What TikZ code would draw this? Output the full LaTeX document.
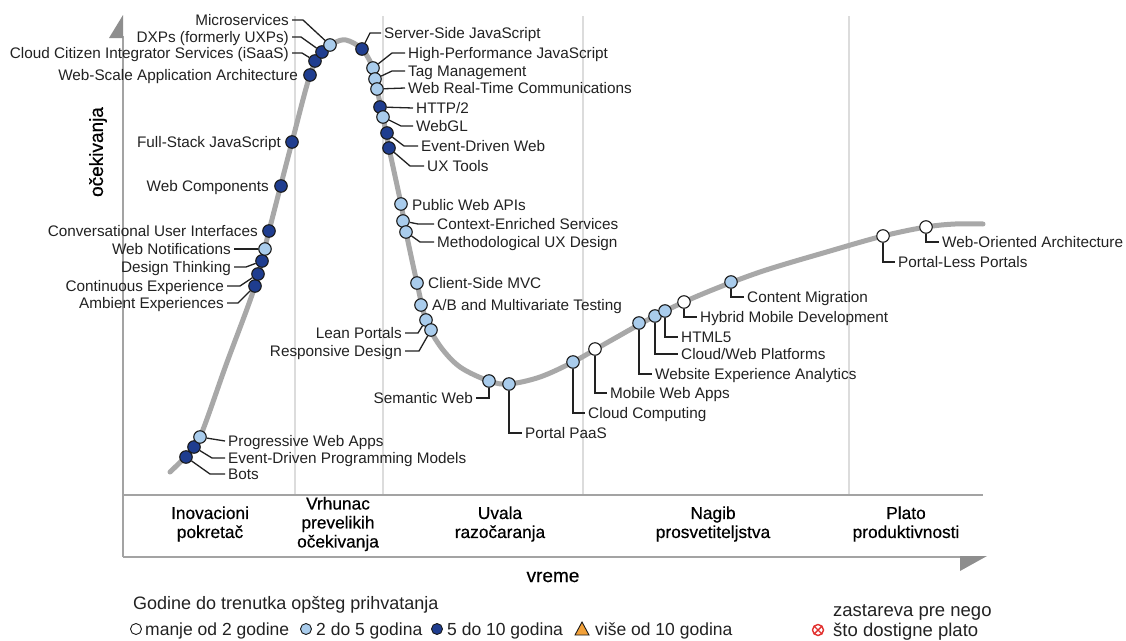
\documentclass[tikz,border=0pt]{standalone}
\usepackage{fontspec}
\setmainfont{Liberation Sans}
\pgfdeclarelayer{links}
\pgfsetlayers{links,main}
\definecolor{curvegray}{HTML}{A8A8A8}
\definecolor{axisgray}{HTML}{A3A3A3}
\definecolor{sepgray}{HTML}{DCDCDC}
\definecolor{tipgray}{HTML}{8E8E8E}
\definecolor{lightdot}{HTML}{A9CCEC}
\definecolor{darkdot}{HTML}{1F3D8F}
\definecolor{rimcol}{HTML}{1A1A1A}
\definecolor{inkcol}{HTML}{222222}
\definecolor{ambercol}{HTML}{F2A13A}
\definecolor{redcol}{HTML}{E2312F}
\newcommand\lblfont{\fontsize{15.3}{17}\selectfont}
\newcommand\phasefont{\fontsize{17.3}{19}\selectfont\addfontfeatures{FakeBold=0.5}}
\newcommand\axisfont{\fontsize{19}{21}\selectfont\addfontfeatures{FakeBold=0.5}}
\newcommand\legfont{\fontsize{17.5}{19}\selectfont}
\tikzset{
  dotbase/.style={circle, draw=rimcol, line width=1.1pt, minimum size=12.5pt, inner sep=0pt},
  dotW/.style={dotbase, fill=white},
  dotL/.style={dotbase, fill=lightdot},
  dotD/.style={dotbase, fill=darkdot},
  lbl/.style={font=\lblfont, text=inkcol, inner sep=0pt, text height=11pt, text depth=0pt},
  lblW/.style={lbl, anchor=west},
  lblE/.style={lbl, anchor=east},
  leader/.style={draw=inkcol, line width=1.3pt},
  phase/.style={font=\phasefont, align=center, inner sep=0pt, text=black},
  legtext/.style={font=\legfont, text=inkcol, anchor=west, inner sep=0pt, text height=12.5pt, text depth=0pt},
  sepline/.style={draw=sepgray, line width=1.8pt},
  axisline/.style={draw=axisgray, line width=1.6pt},
  hype/.style={draw=curvegray, line width=5pt, line cap=round},
}
\begin{document}
\begin{tikzpicture}[x=1pt,y=-1pt]
\useasboundingbox (0,0) rectangle (1126,640);

\begin{pgfonlayer}{links}
  \fill[white] (0,0) rectangle (1126,640);
  % phase separators
  \foreach \sx in {295,383,583,849} \draw[sepline] (\sx,16) -- (\sx,495);
  % axes and phase band
  \draw[axisline] (123,36) -- (123,557);
  \fill[tipgray] (123,15) -- (123,38) -- (109,38) -- cycle;
  \draw[axisline] (123,495) -- (983,495);
  \draw[axisline] (123,557) -- (962,557);
  \fill[tipgray] (960,556) -- (987,556) -- (960,571) -- cycle;
  % hype curve
  \draw[hype] plot[smooth, tension=0.55] coordinates {
    (170,472) (186,456) (200,437) (226,365) (255,286) (269,231) (292,142)
    (310,75) (322,52) (334,43) (346,40) (362,49) (373,68) (377,89) (383,117)
    (389,148) (401,204) (406,232) (417,283) (426,320) (440,346) (460,367)
    (489,381) (509,384) (540,377) (573,362) (610,341) (655,316) (700,295)
    (760,272) (830,251) (883,236) (926,227) (955,224) (983,224)};
\end{pgfonlayer}

% axis titles
\node[font=\axisfont, rotate=90, inner sep=0pt] (ylab) at (98,152) {očekivanja};
\node[font=\axisfont, inner sep=0pt] (xlab) at (553,577) {vreme};

% phase names
\node[phase] (ph1) at (210,524) {Inovacioni\\pokretač};
\node[phase] (ph2) at (338,524) {Vrhunac\\prevelikih\\očekivanja};
\node[phase] (ph3) at (500,524) {Uvala\\razočaranja};
\node[phase] (ph4) at (713,524) {Nagib\\prosvetiteljstva};
\node[phase] (ph5) at (906,524) {Plato\\produktivnosti};

% technologies on the rising slope
\node[dotD] (bots) at (186,457) {};
\node[dotD] (edpm) at (194,447) {};
\node[dotL] (pwa) at (200,437) {};
\node[dotD] (aexp) at (255,286) {};
\node[dotD] (cexp) at (258,274) {};
\node[dotD] (dthk) at (262,261) {};
\node[dotL] (wnot) at (265,249) {};
\node[dotD] (cui) at (269,231) {};
\node[dotD] (wcmp) at (281,186) {};
\node[dotD] (fsjs) at (292,142) {};
\node[dotD] (wsaa) at (310,75) {};
\node[dotD] (ccis) at (315,61) {};
\node[dotD] (dxp) at (322,52) {};
\node[dotL] (msv) at (330,45) {};

\node[lblE] (msvl) at (289,20) {Microservices};
\node[lblE] (dxpl) at (289,37) {DXPs (formerly UXPs)};
\node[lblE] (ccisl) at (289,53) {Cloud Citizen Integrator Services (iSaaS)};
\node[lblE] (wsaal) at (298,75) {Web-Scale Application Architecture};
\node[lblE] (fsjsl) at (281,142) {Full-Stack JavaScript};
\node[lblE] (wcmpl) at (269,186) {Web Components};
\node[lblE] (cuil) at (258,231) {Conversational User Interfaces};
\node[lblE] (wnotl) at (231,249) {Web Notifications};
\node[lblE] (dthkl) at (231,267) {Design Thinking};
\node[lblE] (cexpl) at (224,286) {Continuous Experience};
\node[lblE] (aexpl) at (224,303) {Ambient Experiences};
\node[lblW] (pwal) at (228,441) {Progressive Web Apps};
\node[lblW] (edpml) at (228,458) {Event-Driven Programming Models};
\node[lblW] (botsl) at (228,474) {Bots};

% technologies past the peak
\node[dotD] (ssjs) at (362,49) {};
\node[dotL] (hpjs) at (373,68) {};
\node[dotL] (tagm) at (375,79) {};
\node[dotL] (wrtc) at (377,89) {};
\node[dotD] (http) at (380,107) {};
\node[dotL] (wgl) at (383,117) {};
\node[dotD] (edw) at (387,133) {};
\node[dotD] (uxt) at (389,148) {};
\node[dotL] (pwapi) at (401,204) {};
\node[dotL] (ces) at (403,221) {};
\node[dotL] (mux) at (406,232) {};
\node[dotL] (csmvc) at (417,283) {};
\node[dotL] (abt) at (421,305) {};
\node[dotL] (lean) at (426,320) {};
\node[dotL] (resp) at (431,330) {};
\node[dotL] (semw) at (489,381) {};
\node[dotL] (ppaas) at (509,384) {};
\node[dotL] (cloud) at (573,362) {};
\node[dotW] (mwa) at (595,349) {};
\node[dotL] (wxa) at (639,323) {};
\node[dotL] (cwp) at (655,316) {};
\node[dotL] (html) at (665,311) {};
\node[dotW] (hmd) at (684,302) {};
\node[dotL] (cmig) at (731,282) {};
\node[dotW] (plp) at (883,236) {};
\node[dotW] (woa) at (926,227) {};

\node[lblW] (ssjsl) at (384,33) {Server-Side JavaScript};
\node[lblW] (hpjsl) at (408,53) {High-Performance JavaScript};
\node[lblW] (tagml) at (408,71) {Tag Management};
\node[lblW] (wrtcl) at (408,88) {Web Real-Time Communications};
\node[lblW] (httpl) at (416,108) {HTTP/2};
\node[lblW] (wgll) at (416,126) {WebGL};
\node[lblW] (edwl) at (421,146) {Event-Driven Web};
\node[lblW] (uxtl) at (427,166) {UX Tools};
\node[lblW] (pwapil) at (412,205) {Public Web APIs};
\node[lblW] (cesl) at (437,224) {Context-Enriched Services};
\node[lblW] (muxl) at (437,242) {Methodological UX Design};
\node[lblW] (csmvcl) at (428,283) {Client-Side MVC};
\node[lblW] (abtl) at (432,305) {A/B and Multivariate Testing};
\node[lblE] (leanl) at (402,333) {Lean Portals};
\node[lblE] (respl) at (402,351) {Responsive Design};
\node[lblE] (semwl) at (473,398) {Semantic Web};
\node[lblW] (ppaasl) at (525,433) {Portal PaaS};
\node[lblW] (cloudl) at (588,413) {Cloud Computing};
\node[lblW] (mwal) at (610,393) {Mobile Web Apps};
\node[lblW] (wxal) at (655,374) {Website Experience Analytics};
\node[lblW] (cwpl) at (681,354) {Cloud/Web Platforms};
\node[lblW] (htmll) at (681,337) {HTML5};
\node[lblW] (hmdl) at (700,317) {Hybrid Mobile Development};
\node[lblW] (cmigl) at (747,297) {Content Migration};
\node[lblW] (plpl) at (898,262) {Portal-Less Portals};
\node[lblW] (woal) at (942,242) {Web-Oriented Architecture};

% leader lines from names to their markers
\begin{pgfonlayer}{links}
  \draw[leader] ([xshift=3pt]msvl.east) -- ++(11,0) -- (msv);
  \draw[leader] ([xshift=3pt]dxpl.east) -- ++(9,0) -- (dxp);
  \draw[leader] ([xshift=3pt]ccisl.east) -- ++(10,0) -- (ccis);
  \draw[leader] ([xshift=3pt]wnotl.east) -- (wnot);
  \draw[leader] ([xshift=3pt]dthkl.east) -- ++(12,0) -- (dthk);
  \draw[leader] ([xshift=3pt]cexpl.east) -- ++(13,0) -- (cexp);
  \draw[leader] ([xshift=3pt]aexpl.east) -- ++(11,0) -- (aexp);
  \draw[leader] ([xshift=-3pt]pwal.west) -- (pwa);
  \draw[leader] ([xshift=-3pt]edpml.west) -- ++(-13,0) -- (edpm);
  \draw[leader] ([xshift=-3pt]botsl.west) -- ++(-15,0) -- (bots);

  \draw[leader] ([xshift=-3pt]ssjsl.west) -- ++(-11,0) -- (ssjs);
  \draw[leader] ([xshift=-3pt]hpjsl.west) -- ++(-13,0) -- (hpjs);
  \draw[leader] ([xshift=-3pt]tagml.west) -- ++(-13,0) -- (tagm);
  \draw[leader] ([xshift=-3pt]wrtcl.west) -- (wrtc);
  \draw[leader] ([xshift=-3pt]httpl.west) -- (http);
  \draw[leader] ([xshift=-3pt]wgll.west) -- ++(-12,0) -- (wgl);
  \draw[leader] ([xshift=-3pt]edwl.west) -- ++(-14,0) -- (edw);
  \draw[leader] ([xshift=-3pt]uxtl.west) -- ++(-14,0) -- (uxt);
  \draw[leader] ([xshift=-3pt]cesl.west) -- ++(-16,0) -- (ces);
  \draw[leader] ([xshift=-3pt]muxl.west) -- ++(-14,0) -- (mux);
  \draw[leader] ([xshift=3pt]leanl.east) -- ++(13,0) -- (lean);
  \draw[leader] ([xshift=3pt]respl.east) -- ++(14,0) -- (resp);
  \draw[leader] (semw) |- ([xshift=3pt]semwl.east);
  \draw[leader] (ppaas) |- ([xshift=-3pt]ppaasl.west);
  \draw[leader] (cloud) |- ([xshift=-3pt]cloudl.west);
  \draw[leader] (mwa) |- ([xshift=-3pt]mwal.west);
  \draw[leader] (wxa) |- ([xshift=-3pt]wxal.west);
  \draw[leader] (cwp) |- ([xshift=-3pt]cwpl.west);
  \draw[leader] (html) |- ([xshift=-3pt]htmll.west);
  \draw[leader] (hmd) |- ([xshift=-3pt]hmdl.west);
  \draw[leader] (cmig) |- ([xshift=-3pt]cmigl.west);
  \draw[leader] (plp) |- ([xshift=-3pt]plpl.west);
  \draw[leader] (woa) |- ([xshift=-3pt]woal.west);
\end{pgfonlayer}

% legend
\node[legtext, font=\fontsize{18}{20}\selectfont] (legt) at (133,603) {Godine do trenutka opšteg prihvatanja};
\node[circle, draw=rimcol, line width=0.9pt, minimum size=11pt, inner sep=0pt] (symW) at (136,629) {};
\node[legtext] (txtW) at (145,629) {manje od 2 godine};
\node[dotL, minimum size=11pt, line width=0.9pt] (symL) at (306,629) {};
\node[legtext] (txtL) at (316,629) {2 do 5 godina};
\node[dotD, minimum size=11pt, line width=0.9pt] (symD) at (437,629) {};
\node[legtext] (txtD) at (447,629) {5 do 10 godina};
\filldraw[fill=ambercol, draw=rimcol, line width=0.9pt] (575,635) -- (589,635) -- (582,622) -- cycle;
\node[legtext] (txtA) at (595,629) {više od 10 godina};
\draw[redcol, line width=1.4pt] (818,630) circle (5.5pt)
  (814.1,626.1) -- (821.9,633.9) (814.1,633.9) -- (821.9,626.1);
\node[legtext, font=\fontsize{18.5}{20}\selectfont] (txtR1) at (833,610) {zastareva pre nego};
\node[legtext, font=\fontsize{18.5}{20}\selectfont] (txtR2) at (833,630) {što dostigne plato};
\end{tikzpicture}
\end{document}
